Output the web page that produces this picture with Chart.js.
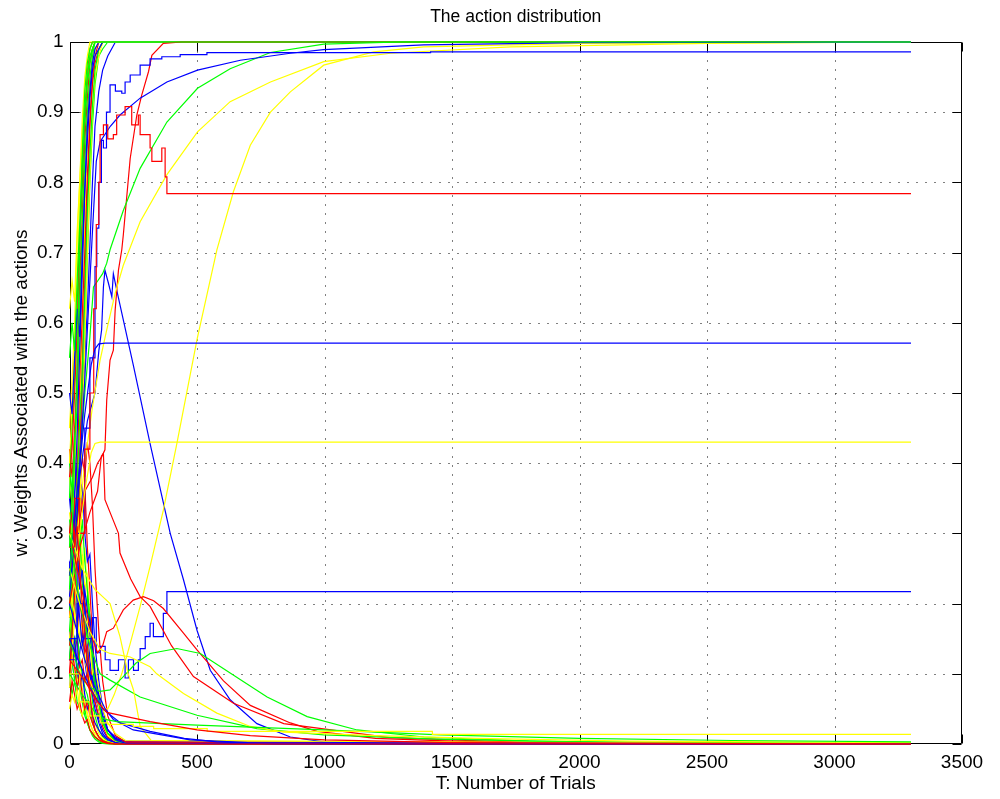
<!DOCTYPE html>
<html>
<head>
<meta charset="utf-8">
<title>The action distribution</title>
<script src="https://cdn.jsdelivr.net/npm/chart.js@4.4.1/dist/chart.umd.min.js"></script>
<style>
  html, body { margin: 0; padding: 0; background: #fff; }
  canvas { display: block; }
</style>
</head>
<body>
<canvas id="js--chart" width="1000" height="799"></canvas>
<script>
// tick labels
const xTicks = [0, 500, 1000, 1500, 2000, 2500, 3000, 3500];
const yTicks = [0, 0.1, 0.2, 0.3, 0.4, 0.5, 0.6, 0.7, 0.8, 0.9, 1];

// early burst: all these runs share the same trial numbers
const burstTrials = [0, 10, 20, 30, 40, 50, 60, 70, 80, 90, 100, 115, 130, 150, 180, 220, 3300];

// runs that converge to 1
const upGreen1  = [0.22, 0.30, 0.41, 0.55, 0.70, 0.84, 0.93, 0.97, 0.99, 1, 1, 1, 1, 1, 1, 1, 1];
const upYellow1 = [0.15, 0.20, 0.28, 0.36, 0.47, 0.60, 0.74, 0.86, 0.94, 0.98, 0.99, 1, 1, 1, 1, 1, 1];
const upRed1    = [0.30, 0.34, 0.45, 0.52, 0.66, 0.75, 0.86, 0.92, 0.97, 0.99, 1, 1, 1, 1, 1, 1, 1];
const upGreen2  = [0.12, 0.18, 0.22, 0.31, 0.38, 0.50, 0.58, 0.69, 0.80, 0.88, 0.94, 0.98, 0.99, 1, 1, 1, 1];
const upYellow2 = [0.40, 0.48, 0.58, 0.66, 0.78, 0.85, 0.91, 0.95, 0.98, 0.99, 1, 1, 1, 1, 1, 1, 1];
const upBlue1   = [0.25, 0.28, 0.24, 0.33, 0.41, 0.47, 0.55, 0.62, 0.71, 0.80, 0.88, 0.93, 0.96, 0.98, 1, 1, 1];
const upRed2    = [0.18, 0.26, 0.31, 0.38, 0.52, 0.61, 0.70, 0.81, 0.89, 0.95, 0.98, 1, 1, 1, 1, 1, 1];
const upYellow3 = [0.33, 0.30, 0.39, 0.47, 0.55, 0.68, 0.77, 0.85, 0.92, 0.96, 0.99, 1, 1, 1, 1, 1, 1];
const upGreen3  = [0.35, 0.45, 0.52, 0.63, 0.72, 0.79, 0.88, 0.94, 0.97, 0.99, 1, 1, 1, 1, 1, 1, 1];
const upYellow4 = [0.08, 0.12, 0.19, 0.26, 0.33, 0.45, 0.57, 0.70, 0.81, 0.90, 0.95, 0.98, 1, 1, 1, 1, 1];
const upRed3    = [0.10, 0.16, 0.21, 0.29, 0.40, 0.54, 0.66, 0.78, 0.88, 0.94, 0.97, 0.99, 1, 1, 1, 1, 1];
const upGreen4  = [0.28, 0.36, 0.43, 0.48, 0.62, 0.74, 0.83, 0.90, 0.95, 0.98, 1, 1, 1, 1, 1, 1, 1];
const upBlue2   = [0.20, 0.26, 0.35, 0.44, 0.56, 0.67, 0.79, 0.88, 0.93, 0.97, 0.99, 1, 1, 1, 1, 1, 1];
const upYellow5 = [0.45, 0.52, 0.60, 0.72, 0.80, 0.89, 0.95, 0.98, 1, 1, 1, 1, 1, 1, 1, 1, 1];
const upGreen5  = [0.16, 0.22, 0.30, 0.37, 0.46, 0.53, 0.64, 0.76, 0.84, 0.91, 0.96, 0.99, 1, 1, 1, 1, 1];
const upRed4    = [0.38, 0.42, 0.50, 0.59, 0.71, 0.82, 0.90, 0.96, 0.99, 1, 1, 1, 1, 1, 1, 1, 1];
const upGreen6  = [0.55, 0.60, 0.56, 0.66, 0.74, 0.83, 0.90, 0.95, 0.98, 0.99, 1, 1, 1, 1, 1, 1, 1];
const upBlue3   = [0.50, 0.47, 0.55, 0.62, 0.58, 0.70, 0.79, 0.86, 0.92, 0.96, 0.98, 0.99, 1, 1, 1, 1, 1];
const upYellow6 = [0.62, 0.66, 0.63, 0.73, 0.80, 0.87, 0.93, 0.97, 0.99, 1, 1, 1, 1, 1, 1, 1, 1];

// runs that die out to 0
const dRed1    = [0.30, 0.33, 0.28, 0.31, 0.25, 0.20, 0.16, 0.11, 0.07, 0.04, 0.02, 0.01, 0.004, 0.001, 0, 0, 0];
const dBlue1   = [0.18, 0.22, 0.26, 0.21, 0.24, 0.19, 0.15, 0.17, 0.12, 0.09, 0.06, 0.035, 0.02, 0.008, 0.002, 0, 0];
const dYellow1 = [0.12, 0.15, 0.11, 0.09, 0.12, 0.08, 0.06, 0.045, 0.03, 0.02, 0.012, 0.006, 0.003, 0.001, 0, 0, 0];
const dGreen1  = [0.25, 0.21, 0.27, 0.30, 0.24, 0.27, 0.20, 0.14, 0.10, 0.06, 0.04, 0.02, 0.01, 0.004, 0.001, 0, 0];
const dRed2    = [0.42, 0.38, 0.44, 0.36, 0.40, 0.33, 0.37, 0.28, 0.22, 0.15, 0.10, 0.05, 0.025, 0.01, 0.003, 0, 0];
const dBlue2   = [0.08, 0.11, 0.14, 0.10, 0.13, 0.16, 0.12, 0.09, 0.11, 0.07, 0.05, 0.03, 0.015, 0.006, 0.002, 0, 0];
const dYellow2 = [0.22, 0.18, 0.23, 0.19, 0.15, 0.18, 0.13, 0.10, 0.07, 0.05, 0.03, 0.015, 0.008, 0.003, 0.001, 0, 0];
const dGreen2  = [0.15, 0.12, 0.09, 0.11, 0.08, 0.06, 0.04, 0.03, 0.02, 0.012, 0.007, 0.003, 0.001, 0, 0, 0, 0];
const dRed3    = [0.20, 0.24, 0.19, 0.16, 0.21, 0.17, 0.13, 0.14, 0.10, 0.08, 0.06, 0.04, 0.03, 0.015, 0.006, 0.002, 0];
const dBlue3   = [0.35, 0.31, 0.36, 0.40, 0.33, 0.37, 0.30, 0.26, 0.27, 0.20, 0.14, 0.09, 0.05, 0.02, 0.007, 0.002, 0];
const dYellow3 = [0.28, 0.32, 0.26, 0.29, 0.33, 0.27, 0.22, 0.24, 0.18, 0.13, 0.09, 0.05, 0.03, 0.012, 0.004, 0.001, 0];
const dGreen3  = [0.10, 0.07, 0.09, 0.06, 0.05, 0.04, 0.05, 0.03, 0.02, 0.015, 0.01, 0.005, 0.002, 0.001, 0, 0, 0];
const dRed4    = [0.14, 0.17, 0.13, 0.15, 0.11, 0.12, 0.09, 0.10, 0.08, 0.11, 0.07, 0.05, 0.04, 0.02, 0.008, 0.002, 0];
const dBlue4   = [0.26, 0.23, 0.19, 0.22, 0.18, 0.14, 0.16, 0.12, 0.09, 0.10, 0.07, 0.05, 0.03, 0.02, 0.01, 0.004, 0];
const dYellow4 = [0.38, 0.34, 0.30, 0.35, 0.29, 0.24, 0.28, 0.21, 0.16, 0.12, 0.08, 0.05, 0.03, 0.015, 0.005, 0.001, 0];
const dGreen4  = [0.32, 0.28, 0.33, 0.26, 0.30, 0.23, 0.19, 0.21, 0.15, 0.11, 0.08, 0.06, 0.03, 0.015, 0.005, 0.001, 0];
const dRed5    = [0.06, 0.09, 0.07, 0.05, 0.06, 0.04, 0.03, 0.035, 0.02, 0.015, 0.01, 0.006, 0.003, 0.001, 0, 0, 0];
const dBlue5   = [0.12, 0.16, 0.20, 0.17, 0.21, 0.18, 0.22, 0.19, 0.15, 0.13, 0.09, 0.06, 0.04, 0.02, 0.008, 0.003, 0];
const dYellow5 = [0.05, 0.07, 0.06, 0.08, 0.05, 0.04, 0.06, 0.04, 0.03, 0.02, 0.015, 0.01, 0.006, 0.003, 0.001, 0, 0];
const dGreen5  = [0.20, 0.17, 0.14, 0.16, 0.12, 0.10, 0.08, 0.07, 0.05, 0.03, 0.02, 0.01, 0.005, 0.002, 0, 0, 0];
const dRed6    = [0.24, 0.29, 0.34, 0.30, 0.36, 0.41, 0.38, 0.43, 0.40, 0.34, 0.25, 0.16, 0.09, 0.04, 0.012, 0.003, 0];
const dBlue6   = [0.16, 0.13, 0.15, 0.11, 0.08, 0.10, 0.07, 0.05, 0.06, 0.04, 0.03, 0.02, 0.012, 0.006, 0.002, 0, 0];
const dYellow6 = [0.18, 0.21, 0.17, 0.20, 0.24, 0.19, 0.16, 0.18, 0.14, 0.10, 0.11, 0.08, 0.05, 0.03, 0.015, 0.005, 0];
const dGreen6  = [0.40, 0.36, 0.31, 0.35, 0.28, 0.32, 0.26, 0.22, 0.18, 0.13, 0.09, 0.06, 0.035, 0.015, 0.005, 0.001, 0];
const dRed7    = [0.10, 0.13, 0.11, 0.08, 0.10, 0.07, 0.05, 0.06, 0.04, 0.03, 0.02, 0.01, 0.005, 0.002, 0, 0, 0];
const dBlue7   = [0.30, 0.27, 0.24, 0.28, 0.22, 0.25, 0.20, 0.16, 0.18, 0.14, 0.10, 0.07, 0.04, 0.02, 0.006, 0.001, 0];

// slower runs, each with its own trial numbers
const blueSlowT = [0, 30, 60, 90, 105, 120, 160, 198, 277, 382, 502, 670, 866, 996, 1389, 2000, 3300];
const blueSlowW = [0.21, 0.33, 0.52, 0.73, 0.83, 0.858, 0.88, 0.896, 0.920, 0.943, 0.960, 0.974, 0.984, 0.989, 0.996, 0.999, 1];

const greenRiseT = [0, 20, 40, 60, 80, 94, 113, 130, 146, 159, 211, 277, 382, 502, 630, 788, 997, 1300, 3300];
const greenRiseW = [0.19, 0.28, 0.40, 0.50, 0.58, 0.651, 0.661, 0.67, 0.685, 0.704, 0.76, 0.820, 0.886, 0.934, 0.962, 0.985, 0.997, 1, 1];

const yellowGentleT = [0, 30, 60, 90, 120, 146, 179, 211, 277, 382, 502, 630, 788, 997, 1259, 1730, 2500, 3300];
const yellowGentleW = [0.20, 0.30, 0.40, 0.48, 0.547, 0.59, 0.642, 0.682, 0.744, 0.811, 0.872, 0.915, 0.943, 0.972, 0.984, 0.993, 0.998, 1];

const yellowSteepT = [0, 40, 80, 110, 130, 150, 175, 205, 238, 277, 316, 368, 421, 500, 578, 643, 709, 788, 866, 997, 1193, 1389, 2000, 3300];
const yellowSteepW = [0.22, 0.15, 0.09, 0.06, 0.05, 0.05, 0.07, 0.10, 0.143, 0.196, 0.253, 0.333, 0.428, 0.576, 0.704, 0.787, 0.853, 0.90, 0.929, 0.967, 0.986, 0.993, 0.998, 1];

const blueDropT = [0, 40, 70, 100, 115, 126, 133, 139, 153, 166, 172, 185, 250, 316, 395, 447, 500, 552, 630, 735, 866, 996, 1300, 3300];
const blueDropW = [0.25, 0.38, 0.46, 0.50, 0.56, 0.59, 0.651, 0.675, 0.656, 0.637, 0.670, 0.647, 0.54, 0.428, 0.300, 0.234, 0.162, 0.105, 0.063, 0.029, 0.010, 0.003, 0, 0];

const redStepT = [0, 20, 40, 60, 80, 95, 105, 115, 120, 133, 150, 172, 185, 218, 244, 270, 277, 316, 323, 362, 375, 382, 3300];
const redStepW = [0.28, 0.35, 0.30, 0.42, 0.50, 0.62, 0.74, 0.80, 0.868, 0.882, 0.862, 0.868, 0.896, 0.908, 0.882, 0.896, 0.868, 0.849, 0.830, 0.849, 0.808, 0.784, 0.784];

const redRiseT = [0, 30, 60, 90, 110, 126, 139, 146, 159, 172, 179, 192, 205, 211, 238, 264, 283, 310, 323, 368, 440, 3300];
const redRiseW = [0.24, 0.30, 0.36, 0.38, 0.40, 0.409, 0.419, 0.49, 0.547, 0.561, 0.618, 0.675, 0.704, 0.725, 0.834, 0.896, 0.924, 0.958, 0.981, 0.998, 1, 1];

const blueStableT = [0, 30, 60, 80, 100, 107, 115, 125, 133, 145, 159, 180, 205, 218, 238, 277, 316, 362, 434, 539, 1416, 3300];
const blueStableW = [0.15, 0.30, 0.45, 0.55, 0.68, 0.735, 0.80, 0.86, 0.849, 0.90, 0.939, 0.93, 0.927, 0.943, 0.953, 0.967, 0.976, 0.979, 0.982, 0.985, 0.986, 0.986];

const blueMidT = [0, 30, 60, 85, 100, 115, 140, 3300];
const blueMidW = [0.24, 0.36, 0.47, 0.54, 0.563, 0.570, 0.571, 0.571];

const yellowMidT = [0, 30, 60, 85, 100, 120, 3300];
const yellowMidW = [0.18, 0.27, 0.36, 0.415, 0.428, 0.43, 0.43];

const blueStepT = [0, 30, 60, 90, 105, 120, 140, 159, 192, 218, 231, 251, 270, 277, 297, 316, 329, 368, 382, 3300];
const blueStepW = [0.12, 0.20, 0.15, 0.18, 0.13, 0.139, 0.12, 0.105, 0.12, 0.094, 0.12, 0.105, 0.12, 0.136, 0.153, 0.172, 0.153, 0.186, 0.217, 0.217];

const redBumpT = [0, 30, 60, 90, 110, 130, 146, 172, 211, 250, 290, 330, 368, 447, 500, 604, 709, 866, 971, 1200, 1500, 2000, 3300];
const redBumpW = [0.30, 0.25, 0.20, 0.15, 0.13, 0.14, 0.16, 0.165, 0.191, 0.205, 0.21, 0.204, 0.193, 0.158, 0.134, 0.09, 0.055, 0.03, 0.018, 0.008, 0.004, 0.001, 0];

const redFallT = [0, 40, 80, 110, 125, 133, 139, 170, 192, 198, 240, 277, 316, 400, 486, 643, 840, 1256, 1800, 3300];
const redFallW = [0.20, 0.28, 0.33, 0.36, 0.41, 0.414, 0.348, 0.32, 0.300, 0.272, 0.235, 0.21, 0.196, 0.14, 0.096, 0.058, 0.029, 0.009, 0.002, 0];

const greenBumpT = [0, 40, 80, 120, 159, 211, 260, 316, 421, 513, 630, 775, 932, 1128, 1390, 1800, 2500, 3300];
const greenBumpW = [0.15, 0.10, 0.08, 0.075, 0.077, 0.096, 0.115, 0.129, 0.136, 0.129, 0.101, 0.067, 0.039, 0.020, 0.010, 0.004, 0.001, 0];

const greenFallT = [0, 40, 80, 120, 159, 277, 500, 735, 997, 1440, 2000, 3300];
const greenFallW = [0.30, 0.20, 0.14, 0.10, 0.091, 0.067, 0.041, 0.022, 0.013, 0.007, 0.003, 0.001];

const greenLowT = [0, 50, 100, 140, 185, 500, 997, 1455, 2000, 2600, 3300];
const greenLowW = [0.10, 0.07, 0.045, 0.035, 0.032, 0.027, 0.020, 0.013, 0.008, 0.005, 0.003];

const yellowFallT = [0, 40, 80, 120, 159, 238, 316, 342, 447, 578, 709, 840, 971, 1200, 1600, 2200, 3300];
const yellowFallW = [0.25, 0.20, 0.16, 0.135, 0.129, 0.124, 0.110, 0.10, 0.072, 0.044, 0.025, 0.017, 0.015, 0.012, 0.008, 0.004, 0.002];

const yellowStepT = [0, 40, 80, 120, 150, 250, 330, 540, 1423, 3300];
const yellowStepW = [0.10, 0.06, 0.04, 0.03, 0.028, 0.025, 0.022, 0.018, 0.0138, 0.0138];

const yellowDropT = [0, 50, 100, 130, 159, 198, 230, 251, 277, 320, 3300];
const yellowDropW = [0.30, 0.25, 0.22, 0.21, 0.20, 0.153, 0.10, 0.077, 0.025, 0.005, 0];

const blueLow1T = [0, 60, 100, 140, 172, 250, 473, 700, 3300];
const blueLow1W = [0.20, 0.12, 0.08, 0.05, 0.035, 0.02, 0.006, 0.002, 0];

const blueLow2T = [0, 80, 130, 200, 316, 450, 578, 800, 3300];
const blueLow2W = [0.15, 0.08, 0.05, 0.03, 0.018, 0.008, 0.003, 0, 0];

const redLowT = [0, 60, 110, 146, 316, 500, 709, 1000, 1500, 3300];
const redLowW = [0.12, 0.09, 0.06, 0.045, 0.032, 0.02, 0.012, 0.006, 0.002, 0];


const RED = "#ff0000";
const GREEN = "#00ff00";
const BLUE = "#0000ff";
const YELLOW = "#ffff00";

const toPoints = (xs, ys) => xs.map((x, i) => ({ x: x, y: ys[i] }));

const run = (xs, ys, color, stepped) => ({
  data: toPoints(xs, ys),
  borderColor: color,
  borderWidth: 1.2,
  pointRadius: 0,
  fill: false,
  tension: 0,
  stepped: stepped || false,
  clip: 1
});

// drawing order: first in the list is drawn first (underneath)
const runs = [
  run(burstTrials, dBlue1, BLUE), run(burstTrials, dYellow1, YELLOW), run(burstTrials, dGreen1, GREEN),
  run(burstTrials, dRed2, RED), run(burstTrials, dBlue2, BLUE), run(burstTrials, dYellow2, YELLOW),
  run(burstTrials, dGreen2, GREEN), run(burstTrials, dRed3, RED), run(burstTrials, dBlue3, BLUE),
  run(burstTrials, dYellow3, YELLOW), run(burstTrials, dGreen3, GREEN), run(burstTrials, dRed4, RED),
  run(burstTrials, dBlue4, BLUE), run(burstTrials, dYellow4, YELLOW), run(burstTrials, dGreen4, GREEN),
  run(burstTrials, dRed5, RED), run(burstTrials, dBlue5, BLUE), run(burstTrials, dYellow5, YELLOW),
  run(burstTrials, dGreen5, GREEN), run(burstTrials, dRed6, RED), run(burstTrials, dBlue6, BLUE),
  run(burstTrials, dYellow6, YELLOW), run(burstTrials, dGreen6, GREEN), run(burstTrials, dRed7, RED),
  run(burstTrials, dBlue7, BLUE),

  run(burstTrials, upYellow1, YELLOW), run(burstTrials, upRed1, RED), run(burstTrials, upGreen2, GREEN),
  run(burstTrials, upYellow2, YELLOW), run(burstTrials, upBlue1, BLUE), run(burstTrials, upRed2, RED),
  run(burstTrials, upYellow3, YELLOW), run(burstTrials, upGreen3, GREEN), run(burstTrials, upYellow4, YELLOW),
  run(burstTrials, upRed3, RED), run(burstTrials, upGreen4, GREEN), run(burstTrials, upBlue2, BLUE),
  run(burstTrials, upYellow5, YELLOW), run(burstTrials, upGreen5, GREEN), run(burstTrials, upRed4, RED),
  run(burstTrials, upBlue3, BLUE), run(burstTrials, upYellow6, YELLOW), run(burstTrials, upGreen6, GREEN),

  run(blueDropT, blueDropW, BLUE),
  run(yellowSteepT, yellowSteepW, YELLOW),
  run(redRiseT, redRiseW, RED),
  run(yellowGentleT, yellowGentleW, YELLOW),
  run(greenRiseT, greenRiseW, GREEN),
  run(blueSlowT, blueSlowW, BLUE),
  run(blueStableT, blueStableW, BLUE, true),
  run(redStepT, redStepW, RED, true),
  run(blueMidT, blueMidW, BLUE),
  run(yellowMidT, yellowMidW, YELLOW),
  run(blueStepT, blueStepW, BLUE, true),
  run(redBumpT, redBumpW, RED),
  run(redFallT, redFallW, RED),
  run(greenBumpT, greenBumpW, GREEN),
  run(greenFallT, greenFallW, GREEN),
  run(yellowFallT, yellowFallW, YELLOW),
  run(yellowDropT, yellowDropW, YELLOW),
  run(blueLow1T, blueLow1W, BLUE),
  run(blueLow2T, blueLow2W, BLUE),
  run(greenLowT, greenLowW, GREEN),
  run(yellowStepT, yellowStepW, YELLOW, true),
  run(redLowT, redLowW, RED),

  run(burstTrials, dRed1, RED),
  run(burstTrials, upGreen1, GREEN)
];

// matlab style box, inward ticks and dotted grid, drawn under the lines
const matlabAxes = {
  id: "matlabAxes",
  beforeDatasetsDraw(chart) {
    const ctx = chart.ctx;
    const a = chart.chartArea;
    const xs = chart.scales.x;
    const ys = chart.scales.y;
    const L = Math.round(a.left) + 0.5;
    const R = Math.round(a.right) - 0.5;
    const T = Math.round(a.top) + 0.5;
    const B = Math.round(a.bottom) - 0.5;
    const tickLen = 9;

    ctx.save();
    ctx.lineWidth = 1;
    ctx.strokeStyle = "#000";

    ctx.setLineDash([1, 8]);
    ctx.beginPath();
    xTicks.slice(1, -1).forEach(v => {
      const p = Math.round(xs.getPixelForValue(v)) + 0.5;
      ctx.moveTo(p, T);
      ctx.lineTo(p, B);
    });
    yTicks.slice(1, -1).forEach(v => {
      const p = Math.round(ys.getPixelForValue(v)) + 0.5;
      ctx.moveTo(L, p);
      ctx.lineTo(R, p);
    });
    ctx.stroke();

    ctx.setLineDash([]);
    ctx.beginPath();
    xTicks.forEach(v => {
      const p = Math.round(xs.getPixelForValue(v)) + 0.5;
      ctx.moveTo(p, B); ctx.lineTo(p, B - tickLen);
      ctx.moveTo(p, T); ctx.lineTo(p, T + tickLen);
    });
    yTicks.forEach(v => {
      const p = Math.round(ys.getPixelForValue(v)) + 0.5;
      ctx.moveTo(L, p); ctx.lineTo(L + tickLen, p);
      ctx.moveTo(R, p); ctx.lineTo(R - tickLen, p);
    });
    ctx.rect(L, T, R - L, B - T);
    ctx.stroke();
    ctx.restore();
  }
};

Chart.defaults.font.family = "'Liberation Sans', Arial, Helvetica, sans-serif";
Chart.defaults.color = "#000";

const myChart = new Chart(document.getElementById("js--chart"), {
  type: "line",
  data: { datasets: runs.slice().reverse() },
  options: {
    responsive: false,
    animation: false,
    events: [],
    layout: { padding: { right: 38 } },
    plugins: {
      legend: { display: false },
      tooltip: { enabled: false },
      title: {
        display: true,
        text: "The action distribution",
        fullSize: false,
        color: "#000",
        font: { size: 17.5, weight: "normal" },
        padding: { top: 7, bottom: 14 }
      }
    },
    scales: {
      x: {
        type: "linear",
        min: 0,
        max: 3500,
        afterBuildTicks: s => { s.ticks = xTicks.map(v => ({ value: v })); },
        afterFit: s => { s.height = 55; },
        grid: { display: false, drawTicks: false },
        border: { display: false },
        ticks: {
          padding: 7,
          maxRotation: 0,
          autoSkip: false,
          color: "#000",
          font: { size: 19 },
          callback: v => String(v)
        },
        title: {
          display: true,
          text: "T: Number of Trials",
          color: "#000",
          font: { size: 19 },
          padding: { top: 0, bottom: 3.6 }
        }
      },
      y: {
        type: "linear",
        min: 0,
        max: 1,
        afterBuildTicks: s => { s.ticks = yTicks.map(v => ({ value: v })); },
        afterFit: s => { s.width = 69.5; },
        grid: { display: false, drawTicks: false },
        border: { display: false },
        ticks: {
          padding: 6,
          autoSkip: false,
          color: "#000",
          font: { size: 19 },
          callback: v => String(Math.round(v * 10) / 10)
        },
        title: {
          display: true,
          text: "w: Weights Associated with the actions",
          color: "#000",
          font: { size: 19 },
          padding: { top: 10.6, bottom: 0 }
        }
      }
    }
  },
  plugins: [matlabAxes]
});
</script>
</body>
</html>
